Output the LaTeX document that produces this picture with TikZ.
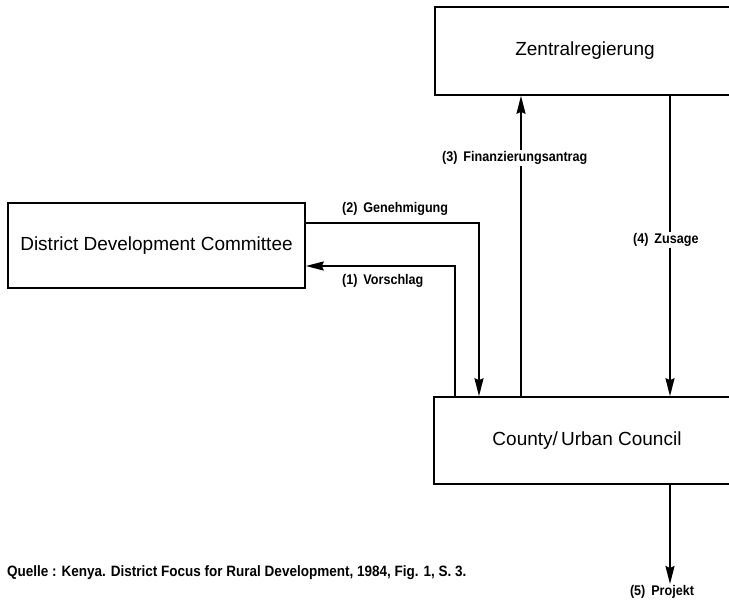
\documentclass[tikz,border=0pt]{standalone}
\usepackage{fontspec}
\setmainfont{Liberation Sans}
\newfontfamily\condfont[FakeStretch=0.9]{Liberation Sans}
\usetikzlibrary{arrows.meta, positioning, calc}

\begin{document}
\begin{tikzpicture}[x=1pt, y=1pt,
  box/.style={rectangle, draw, line width=1.6pt, font=\fontsize{19}{22}\selectfont},
  lbl/.style={font=\condfont\bfseries\fontsize{14}{16}\selectfont, inner sep=1pt},
  arr/.style={line width=2pt, -{Stealth[length=18pt, width=9pt, inset=2pt]}}]
\useasboundingbox (0,0) rectangle (729,-602);
\clip (0,0) rectangle (729,-602);

% the three bodies (two run off the right edge)
\node (zentral) [box, minimum width=300pt, minimum height=88pt] at (585,-51) {Zentralregierung};
\node (ddc) [box, minimum width=297pt, minimum height=85pt] at (156.5,-245.5) {District Development Committee};
\node (council) [box, minimum width=306pt, minimum height=87pt] at (587,-440.5) {County/\,Urban Council};

\coordinate (vorschlag) at (455,-266);
\coordinate (genehmigung) at (479,-223);
\coordinate (antrag) at (521,0);
\coordinate (zusage) at (670,0);

\draw[arr] (vorschlag |- council.north) |- (ddc.east |- vorschlag);
\draw[arr] (ddc.east |- genehmigung) -| (genehmigung |- council.north);
\draw[arr] (antrag |- council.north) -- (antrag |- zentral.south);
\draw[arr] (zusage |- zentral.south) -- (zusage |- council.north);
\node (projekt) [lbl, anchor=north] at (662,-584) {(5)\ \,Projekt};
\draw[arr] (zusage |- council.south) -- (zusage |- projekt.north);

\node (genlbl) [lbl, anchor=west] at (341,-209) {(2)\ \,Genehmigung};
\node (vorlbl) [lbl, anchor=west] at (341,-281) {(1)\ \,Vorschlag};
\node (antlbl) [lbl, fill=white, anchor=west] at (441,-158) {(3)\ \,Finanzierungsantrag};
\node (zuslbl) [lbl, fill=white, anchor=west] at (632,-240) {(4)\ \,Zusage};
\node (quelle) [lbl, font=\condfont\bfseries\fontsize{15}{17}\selectfont, anchor=west] at (6,-573) {Quelle : Kenya. District Focus for Rural Development, 1984, Fig. 1, S. 3.};
\end{tikzpicture}
\end{document}
